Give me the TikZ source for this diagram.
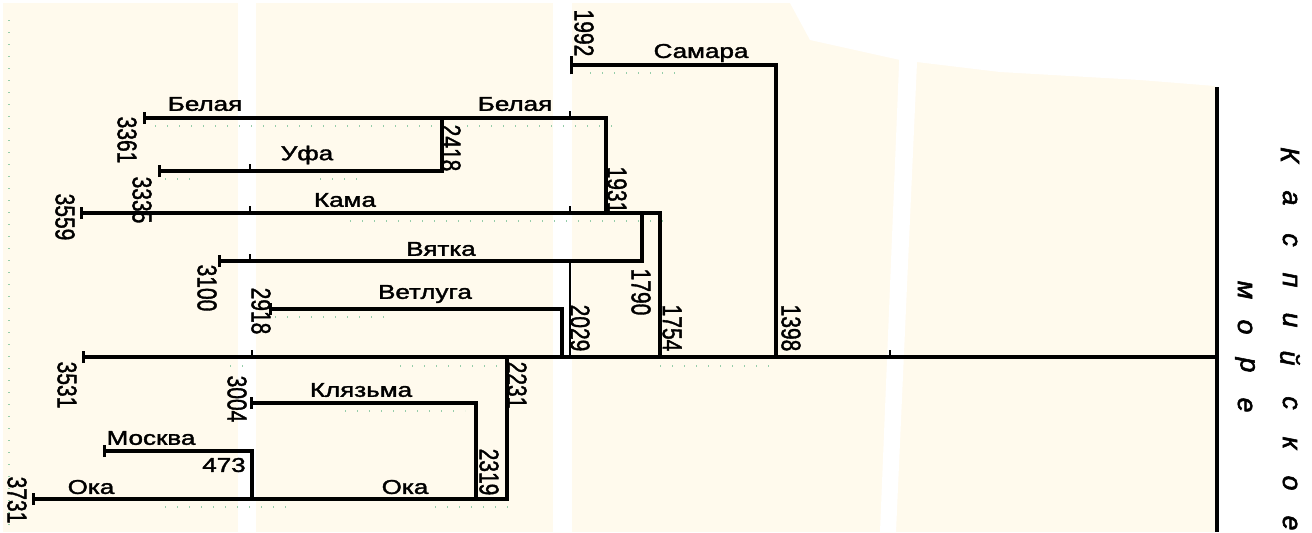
\documentclass[tikz,border=0pt]{standalone}
\usepackage{fontspec}
\setmainfont{Liberation Sans}
\newfontfamily\thick{Liberation Sans}[FakeBold=1.6]
\newfontfamily\thickit{Liberation Sans Italic}[FakeBold=2]
\usepackage{graphicx}
\usetikzlibrary{arrows.meta}
\definecolor{cream}{RGB}{255,250,237}
\definecolor{dotgreen}{RGB}{150,205,170}
\newcommand{\hs}[1]{\scalebox{1.3}[1]{#1}}
\newcommand{\vs}[1]{\scalebox{1}[1.3]{#1}}
\begin{document}
\begin{tikzpicture}[x=0.75pt,y=-0.75pt,
  river/.style={line width=2.5pt,{Bar[width=9pt]}-},
  thinl/.style={line width=1.1pt},
  gtick/.style={line width=1pt},
  grid dots/.style={dotgreen,line width=1pt,dash pattern=on 1pt off 8pt},
  lab/.style={font=\thick\fontsize{15}{18}\selectfont,inner sep=0pt},
  num/.style={font=\thick\fontsize{15.75}{18}\selectfont,rotate=-90,inner sep=0pt},
  casp/.style={font=\thickit\fontsize{20}{22}\selectfont,rotate=-90,inner sep=0pt}]
\useasboundingbox (0,0) rectangle (1312,532);
% background
\fill[cream] (3,3) rectangle (1215,532);
\fill[white] (238,3) rectangle (256,532);
\fill[white] (553,3) rectangle (572,532);
\fill[white] (900,40) -- (918,40) -- (896,532) -- (880,532) -- cycle;
\fill[white] (790,3) -- (1215,3) -- (1215,86) -- (1140,80) -- (1000,72) -- (900,60) -- (810,40) -- cycle;
% faint dotted guide lines
\draw[grid dots] (9,20) -- (9,532);
\draw[grid dots] (155,126) -- (612,126);
\draw[grid dots] (165,179) -- (200,179) (320,179) -- (360,179);
\draw[grid dots] (350,221) -- (665,221);
\draw[grid dots] (275,317) -- (390,317);
\draw[grid dots] (230,366) -- (245,366) (400,366) -- (505,366) (660,366) -- (770,366);
\draw[grid dots] (345,411) -- (465,411);
\draw[grid dots] (165,507) -- (295,507) (435,507) -- (510,507);
\draw[grid dots] (590,73) -- (680,73);
% coordinates
\coordinate (c1) at (1217,87);
\coordinate (c2) at (1217,532);
\coordinate (vm) at (1217,357);
\coordinate (v0) at (82,357);
\coordinate (s0) at (570,65);
\coordinate (s1) at (776,65);
\coordinate (s2) at (776,357);
\coordinate (b0) at (143,118);
\coordinate (b1) at (606,118);
\coordinate (b2) at (606,213);
\coordinate (u0) at (158,171);
\coordinate (u1) at (442,171);
\coordinate (u2) at (442,118);
\coordinate (k0) at (80,213);
\coordinate (k1) at (660,213);
\coordinate (k2) at (660,357);
\coordinate (w0) at (218,261);
\coordinate (w1) at (642,261);
\coordinate (w2) at (642,213);
\coordinate (e0) at (269,309);
\coordinate (e1) at (562,309);
\coordinate (e2) at (562,357);
\coordinate (o0) at (32,499);
\coordinate (o1) at (507,499);
\coordinate (o2) at (507,357);
\coordinate (l0) at (250,403);
\coordinate (l1) at (476,403);
\coordinate (l2) at (476,499);
\coordinate (m0) at (103,451);
\coordinate (m1) at (252,451);
\coordinate (m2) at (252,499);
\coordinate (g0) at (570,261);
\coordinate (g1) at (570,357);
% Caspian shore
\draw[line width=3.2pt] (c1) -- (c2);
% rivers
\draw[river] (v0) -- (vm);
\draw[line width=2.5pt,{Bar[width=14pt]}-] (s0) -- (s1) -- (s2);
\draw[river] (b0) -- (b1) -- (b2);
\draw[river] (u0) -- (u1) -- (u2);
\draw[river] (k0) -- (k1) -- (k2);
\draw[river] (w0) -- (w1) -- (w2);
\draw[river] (e0) -- (e1) -- (e2);
\draw[river] (o0) -- (o1) -- (o2);
\draw[river] (l0) -- (l1) -- (l2);
\draw[river] (m0) -- (m1) -- (m2);
\draw[thinl] (g0) -- (g1);
% small grid ticks
\foreach \x/\y in {250/171,250/213,250/261,252/357,570/118,570/213,890/357}
  \draw[gtick] (\x,\y-7) -- (\x,\y);
% river names
\node[lab] (nSam) at (701,53) {\hs{Самара}};
\node[lab] (nBel1) at (205,104) {\hs{Белая}};
\node[lab] (nBel2) at (515,104) {\hs{Белая}};
\node[lab] (nUfa) at (307,155) {\hs{Уфа}};
\node[lab] (nKam) at (345,200) {\hs{Кама}};
\node[lab] (nVja) at (441,249) {\hs{Вятка}};
\node[lab] (nVet) at (425,294) {\hs{Ветлуга}};
\node[lab] (nKlj) at (361,390) {\hs{Клязьма}};
\node[lab] (nMos) at (151,438) {\hs{Москва}};
\node[lab] (nOka1) at (91,487) {\hs{Ока}};
\node[lab] (nOka2) at (405,487) {\hs{Ока}};
\node[lab] (n473) at (224,465) {\hs{473}};
% distances
\node[num] (d1992) at (584,33) {\vs{1992}};
\node[num] (d3361) at (127,140) {\vs{3361}};
\node[num] (d2418) at (451,148) {\vs{2418}};
\node[num] (d1931) at (617,190) {\vs{1931}};
\node[num] (d3335) at (142,200) {\vs{3335}};
\node[num] (d3559) at (65,217) {\vs{3559}};
\node[num] (d3100) at (207,288) {\vs{3100}};
\node[num] (d1790) at (641,292) {\vs{1790}};
\node[num] (d2918) at (261,311) {\vs{2918}};
\node[num] (d2029) at (580,328) {\vs{2029}};
\node[num] (d1754) at (672,328) {\vs{1754}};
\node[num] (d1398) at (791,328) {\vs{1398}};
\node[num] (d3531) at (67,385) {\vs{3531}};
\node[num] (d2231) at (517,385) {\vs{2231}};
\node[num] (d3004) at (237,399) {\vs{3004}};
\node[num] (d2319) at (489,472) {\vs{2319}};
\node[num] (d3731) at (17,500) {\vs{3731}};
% Caspian Sea letters
\foreach \ch/\y [count=\i] in {К/155,а/198,с/240,п/280,и/320,й/358,с/403,к/443,о/483,е/523}
  \node[casp] (ka\i) at (1290,\y) {\ch};
\foreach \ch/\y [count=\i] in {м/290,о/327,р/365,е/405}
  \node[casp] (mo\i) at (1245,\y) {\ch};
\end{tikzpicture}
\end{document}
